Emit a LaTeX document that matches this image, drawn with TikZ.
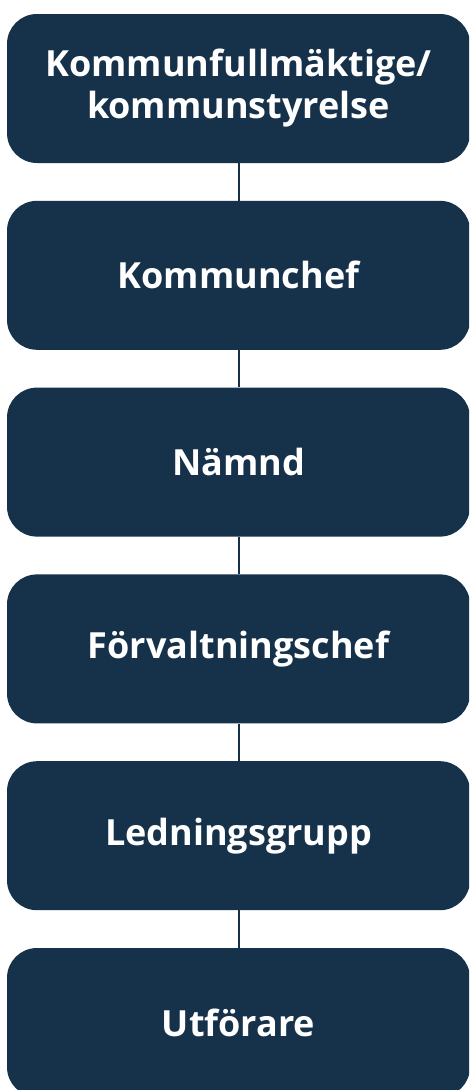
\documentclass[tikz,border=0pt]{standalone}
\usepackage{fontspec}
\setmainfont{Open Sans}
\usetikzlibrary{calc}
\definecolor{org navy}{HTML}{16324B}

\tikzset{
  orgbox/.style = {fill = org navy, rounded corners = 30pt, minimum width = 463pt,
    minimum height = 149pt, text = white, align = center, inner sep = 0pt,
    font = \fontsize{36}{42}\selectfont\bfseries},
  orglink/.style = {draw = org navy, line width = 2pt}
}

\begin{document}
\begin{tikzpicture}[x = 1pt, y = -1pt]
      \useasboundingbox (0, 0) rectangle (469, 1090);
      \clip (0, 0) rectangle (469, 1090);

      \foreach \name/\label [count = \i from 0] in {kf/{Kommunfullmäktige/\\kommunstyrelse},
          kc/Kommunchef, nd/Nämnd, fc/Förvaltningschef, lg/Ledningsgrupp, ut/Utförare} {
        \node[orgbox] (\name) at (238.5, 88.5 + \i*186.8) {\label};
      }

      \foreach \a/\b in {kf/kc, kc/nd, nd/fc, fc/lg, lg/ut} {
        \draw[orglink] (\a.south) -- (\b.north);
      }
\end{tikzpicture}
\end{document}
